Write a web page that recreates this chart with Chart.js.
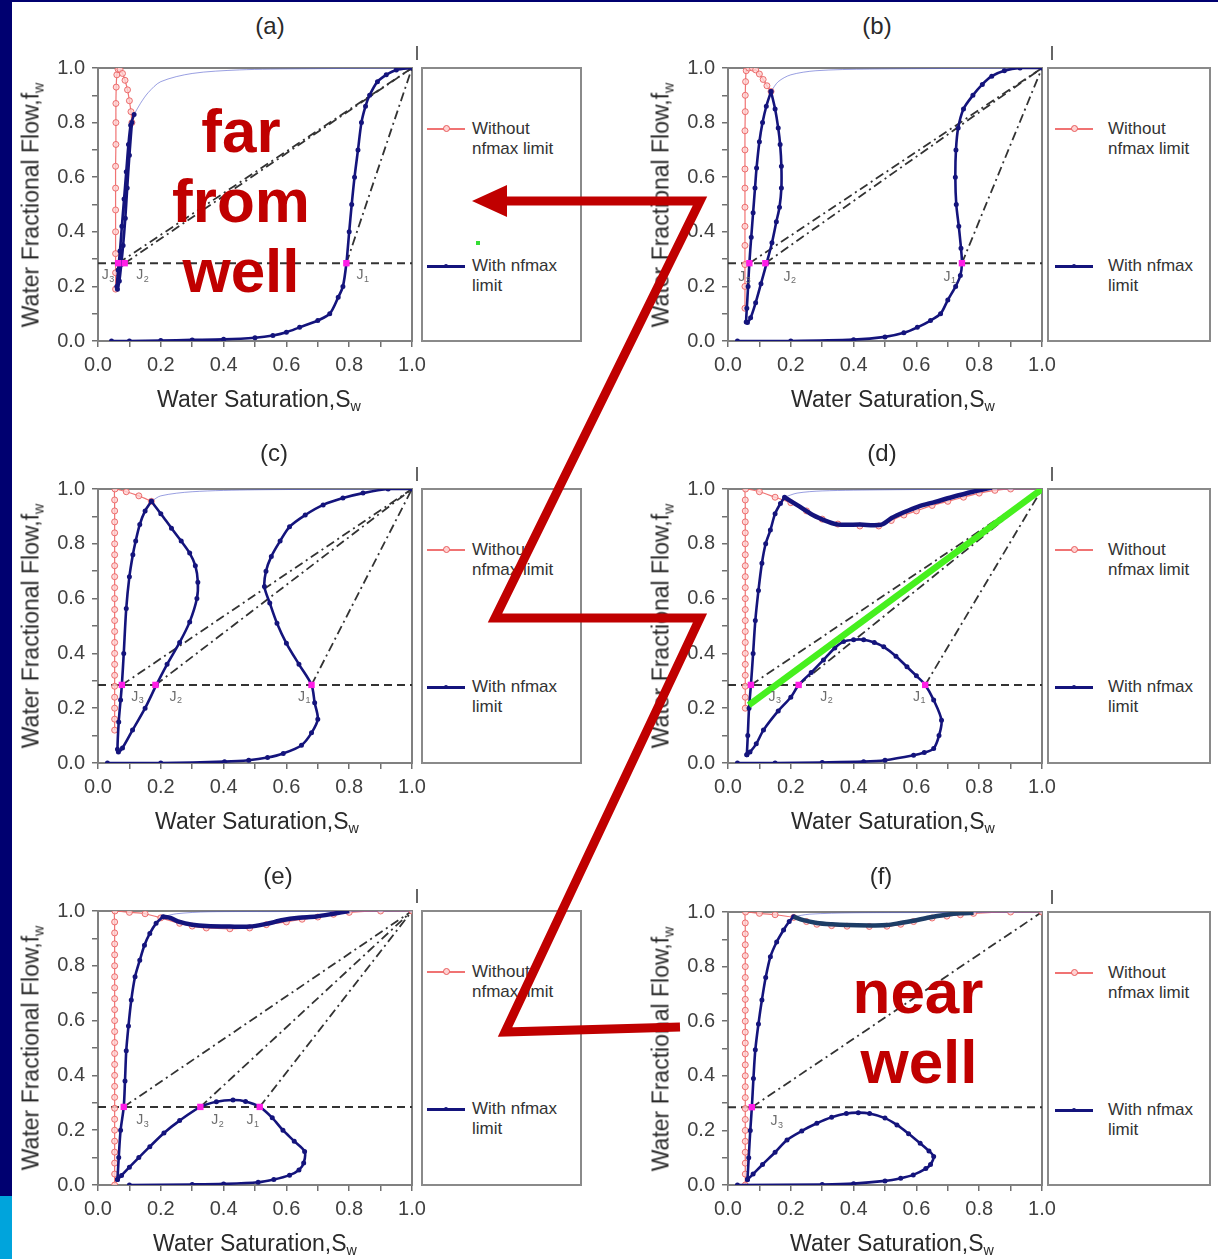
<!DOCTYPE html>
<html>
<head>
<meta charset="utf-8">
<script src="https://cdn.jsdelivr.net/npm/chart.js@4.4.1/dist/chart.umd.min.js"></script>
<style>
  html, body { margin: 0; padding: 0; background: #fff; }
  #page { position: relative; width: 1218px; height: 1259px; overflow: hidden; background: #fff;
          font-family: "Liberation Sans", Arial, sans-serif; }
  .frame { position: absolute; background: #000070; }
  .cv { position: absolute; }
  .lbl { position: absolute; white-space: nowrap; color: #2a2a2a; transform: translate(-50%, -50%); }
  .lbl sub { font-size: 0.62em; vertical-align: -0.35em; }
  .ptitle { font-size: 24px; }
  .axt { font-size: 23px; }
  .yt { transform: translate(-50%, -50%) rotate(-90deg); }
  .leg { position: absolute; border: 2px solid #8a8a8a; box-sizing: border-box; background: #fff; }
  .leg .txt { position: absolute; font-size: 17px; line-height: 20px; color: #333; white-space: nowrap; }
  .leg .ln { position: absolute; }
  .leg .mk { position: absolute; border-radius: 50%; }
  .tickI { position: absolute; width: 2px; background: #666; }
  #overlay { position: absolute; left: 0; top: 0; pointer-events: none; }
</style>
</head>
<body>
<div id="page">
  <div class="frame" style="left:0;top:0;width:12px;height:1259px"></div>
  <div class="frame" style="left:0;top:0;width:1218px;height:2px"></div>
  <div class="frame" style="left:0;top:1196px;width:12px;height:63px;background:#00a4dc"></div>
</div>
<script>
// ---------------- DATA (Sw, fw pairs) ----------------
const TICKS_X = ["0.0", "0.2", "0.4", "0.6", "0.8", "1.0"];
const FW_DASH = 0.285;          // horizontal dashed line
const END = [1.0, 1.0];         // tie lines converge here

// (a)
const aRed = [[0.056,0.19],[0.056,0.25],[0.056,0.32],[0.056,0.40],[0.056,0.48],[0.056,0.56],[0.056,0.64],[0.057,0.72],[0.057,0.80],[0.057,0.87],[0.058,0.93],[0.06,0.975],[0.064,0.995],[0.07,0.995],[0.078,0.98],[0.086,0.955],[0.094,0.92],[0.1,0.88],[0.105,0.84],[0.108,0.8]];
const aBlueMain = [[0.043,0.0],[0.1,0.0],[0.2,0.002],[0.3,0.004],[0.4,0.006],[0.5,0.012],[0.557,0.02],[0.6,0.032],[0.642,0.05],[0.7,0.075],[0.738,0.1],[0.765,0.16],[0.78,0.2],[0.791,0.285],[0.8,0.4],[0.808,0.5],[0.817,0.6],[0.828,0.7],[0.839,0.8],[0.852,0.86],[0.865,0.9],[0.89,0.95],[0.918,0.975],[0.95,0.993],[1.0,1.0]];
const aBlueLoop = [[0.108,0.8],[0.1,0.68],[0.093,0.56],[0.087,0.45],[0.08,0.35],[0.074,0.28],[0.068,0.22],[0.062,0.19],[0.06,0.2],[0.064,0.26],[0.07,0.33],[0.076,0.42],[0.083,0.52],[0.09,0.62],[0.097,0.72],[0.104,0.79],[0.115,0.83]];
const aBlueThin = [[0.115,0.83],[0.135,0.87],[0.16,0.91],[0.2,0.95],[0.3,0.98],[0.45,0.993],[0.65,0.997],[1.0,1.0]];
const aJ = [[0.064,0.285],[0.085,0.285],[0.791,0.285]];
const aJLab = [[0.012,0.24],[0.122,0.24],[0.823,0.24]];

// (b)
const bRed = [[0.054,0.12],[0.054,0.2],[0.054,0.28],[0.054,0.35],[0.054,0.42],[0.054,0.49],[0.054,0.56],[0.054,0.63],[0.054,0.7],[0.054,0.77],[0.055,0.84],[0.055,0.9],[0.056,0.95],[0.058,0.99],[0.066,1.0],[0.078,1.0],[0.088,0.993],[0.1,0.978],[0.112,0.958],[0.124,0.935],[0.137,0.914]];
const bBlueMain = [[0.03,0.0],[0.2,0.0],[0.4,0.005],[0.5,0.015],[0.56,0.03],[0.603,0.05],[0.645,0.075],[0.677,0.1],[0.7,0.15],[0.725,0.2],[0.74,0.24],[0.745,0.285],[0.742,0.34],[0.735,0.42],[0.727,0.5],[0.724,0.6],[0.726,0.7],[0.733,0.78],[0.75,0.85],[0.78,0.9],[0.81,0.94],[0.84,0.97],[0.88,0.99],[0.93,1.0],[1.0,1.0]];
const bBlueLoop = [[0.137,0.914],[0.15,0.85],[0.16,0.78],[0.166,0.72],[0.17,0.64],[0.17,0.56],[0.164,0.49],[0.154,0.437],[0.14,0.36],[0.123,0.285],[0.105,0.21],[0.088,0.14],[0.072,0.085],[0.062,0.068],[0.058,0.07],[0.06,0.12],[0.064,0.2],[0.068,0.285],[0.074,0.38],[0.08,0.47],[0.086,0.56],[0.091,0.634],[0.1,0.73],[0.11,0.8],[0.122,0.86],[0.137,0.914]];
const bBlueThin = [[0.137,0.914],[0.16,0.95],[0.2,0.975],[0.28,0.99],[0.45,0.996],[1.0,1.0]];
const bJ = [[0.068,0.285],[0.119,0.285],[0.745,0.285]];
const bJLab = [[0.033,0.235],[0.177,0.235],[0.686,0.235]];

// (c)
const cRed = [[0.053,0.12],[0.053,0.16],[0.053,0.2],[0.053,0.24],[0.053,0.28],[0.053,0.32],[0.053,0.36],[0.053,0.4],[0.053,0.44],[0.053,0.48],[0.053,0.52],[0.053,0.56],[0.053,0.6],[0.053,0.64],[0.053,0.68],[0.053,0.72],[0.053,0.76],[0.053,0.8],[0.053,0.84],[0.053,0.88],[0.053,0.92],[0.053,0.96],[0.054,1.0],[0.09,0.99],[0.13,0.975],[0.17,0.955]];
const cBlueMain = [[0.03,0.0],[0.2,0.0],[0.403,0.005],[0.48,0.01],[0.54,0.02],[0.59,0.035],[0.648,0.065],[0.68,0.11],[0.7,0.16],[0.69,0.22],[0.68,0.285],[0.64,0.36],[0.6,0.437],[0.57,0.51],[0.547,0.584],[0.53,0.644],[0.535,0.7],[0.552,0.754],[0.58,0.81],[0.61,0.862],[0.66,0.905],[0.717,0.942],[0.78,0.967],[0.844,0.985],[0.924,1.0],[1.0,1.0]];
const cBlueLoop = [[0.17,0.955],[0.2,0.91],[0.234,0.857],[0.265,0.81],[0.292,0.766],[0.31,0.72],[0.318,0.66],[0.315,0.6],[0.292,0.515],[0.26,0.44],[0.22,0.36],[0.186,0.285],[0.15,0.2],[0.11,0.12],[0.078,0.055],[0.065,0.04],[0.062,0.05],[0.066,0.15],[0.072,0.23],[0.076,0.285],[0.082,0.4],[0.09,0.564],[0.1,0.68],[0.111,0.76],[0.12,0.81],[0.133,0.87],[0.15,0.92],[0.17,0.955]];
const cBlueThin = [[0.17,0.955],[0.2,0.975],[0.3,0.99],[0.5,0.997],[1.0,1.0]];
const cJ = [[0.076,0.285],[0.183,0.285],[0.68,0.285]];
const cJLab = [[0.106,0.241],[0.228,0.241],[0.637,0.241]];

// (d)
const dRed = [[0.055,0.2],[0.055,0.24],[0.055,0.28],[0.055,0.32],[0.055,0.36],[0.055,0.4],[0.055,0.44],[0.055,0.48],[0.055,0.52],[0.055,0.56],[0.055,0.6],[0.055,0.64],[0.055,0.68],[0.055,0.72],[0.055,0.76],[0.055,0.8],[0.055,0.84],[0.055,0.88],[0.055,0.92],[0.055,0.96],[0.056,1.0],[0.1,0.99],[0.15,0.97],[0.2,0.95],[0.25,0.92],[0.3,0.89],[0.35,0.872],[0.42,0.865],[0.48,0.865],[0.52,0.885],[0.56,0.905],[0.6,0.92],[0.65,0.94],[0.7,0.955],[0.75,0.97],[0.8,0.985],[0.85,0.995],[0.9,1.0],[1.0,1.0]];
const dBlueTop = [[0.18,0.97],[0.222,0.94],[0.27,0.905],[0.32,0.88],[0.351,0.87],[0.42,0.87],[0.489,0.87],[0.521,0.894],[0.56,0.915],[0.606,0.936],[0.66,0.953],[0.712,0.97],[0.78,0.99],[0.84,1.005]];
const dBlueRise = [[0.06,0.03],[0.063,0.1],[0.067,0.2],[0.073,0.285],[0.08,0.4],[0.087,0.52],[0.097,0.63],[0.108,0.729],[0.12,0.8],[0.135,0.85],[0.15,0.91],[0.167,0.947],[0.18,0.97]];
const dBlueLower = [[0.06,0.03],[0.07,0.04],[0.09,0.07],[0.113,0.12],[0.16,0.19],[0.2,0.24],[0.225,0.285],[0.265,0.33],[0.304,0.376],[0.34,0.42],[0.368,0.443],[0.4,0.45],[0.432,0.45],[0.466,0.44],[0.496,0.424],[0.535,0.39],[0.57,0.351],[0.6,0.318],[0.628,0.285],[0.655,0.23],[0.68,0.156],[0.672,0.1],[0.655,0.053],[0.625,0.038],[0.591,0.028],[0.5,0.01],[0.432,0.005],[0.3,0.002],[0.15,0.0],[0.03,0.0]];
const dBlueThin = [[0.18,0.97],[0.22,0.985],[0.3,0.993],[0.5,0.997],[0.84,1.0],[1.0,1.0]];
const dGreen = [[0.066,0.211],[1.0,1.0]];
const dJ = [[0.073,0.285],[0.225,0.285],[0.628,0.285]];
const dJLab = [[0.129,0.241],[0.294,0.241],[0.589,0.241]];

// (e)
const eRed = [[0.053,0.0],[0.053,0.04],[0.053,0.08],[0.053,0.12],[0.053,0.16],[0.053,0.2],[0.053,0.24],[0.053,0.28],[0.053,0.32],[0.053,0.36],[0.053,0.4],[0.053,0.44],[0.053,0.48],[0.053,0.52],[0.053,0.56],[0.053,0.6],[0.053,0.64],[0.053,0.68],[0.053,0.72],[0.053,0.76],[0.053,0.8],[0.053,0.84],[0.053,0.88],[0.053,0.92],[0.053,0.96],[0.054,1.0],[0.1,0.995],[0.15,0.99],[0.2,0.975],[0.26,0.955],[0.3,0.945],[0.345,0.938],[0.42,0.935],[0.483,0.938],[0.536,0.95],[0.6,0.96],[0.65,0.97],[0.7,0.978],[0.75,0.988],[0.8,0.995],[0.9,1.0],[1.0,1.0]];
const eBlueTop = [[0.207,0.979],[0.23,0.975],[0.26,0.96],[0.3,0.95],[0.345,0.945],[0.42,0.943],[0.483,0.943],[0.536,0.953],[0.589,0.967],[0.64,0.975],[0.695,0.98],[0.75,0.99],[0.8,1.0]];
const eBlueRise = [[0.062,0.02],[0.066,0.1],[0.072,0.2],[0.082,0.285],[0.086,0.38],[0.09,0.49],[0.097,0.58],[0.106,0.675],[0.118,0.76],[0.133,0.82],[0.148,0.875],[0.165,0.918],[0.185,0.955],[0.207,0.979]];
const eBlueLower = [[0.062,0.02],[0.075,0.035],[0.1,0.065],[0.13,0.1],[0.165,0.14],[0.21,0.19],[0.26,0.235],[0.326,0.285],[0.377,0.304],[0.43,0.31],[0.47,0.305],[0.515,0.285],[0.555,0.245],[0.589,0.2],[0.625,0.16],[0.658,0.122],[0.655,0.08],[0.64,0.055],[0.61,0.036],[0.56,0.02],[0.51,0.01],[0.4,0.004],[0.3,0.002],[0.1,0.0]];
const eBlueThin = [[0.207,0.979],[0.25,0.99],[0.35,0.997],[0.6,0.998],[1.0,1.0]];
const eJ = [[0.082,0.285],[0.326,0.285],[0.515,0.285]];
const eJLab = [[0.122,0.237],[0.361,0.237],[0.473,0.237]];

// (f)
const fRed = [[0.055,0.0],[0.055,0.04],[0.055,0.08],[0.055,0.12],[0.055,0.16],[0.055,0.2],[0.055,0.24],[0.055,0.28],[0.055,0.32],[0.055,0.36],[0.055,0.4],[0.055,0.44],[0.055,0.48],[0.055,0.52],[0.055,0.56],[0.055,0.6],[0.055,0.64],[0.055,0.68],[0.055,0.72],[0.055,0.76],[0.055,0.8],[0.055,0.84],[0.055,0.88],[0.055,0.92],[0.055,0.96],[0.056,1.0],[0.1,0.995],[0.15,0.99],[0.209,0.98],[0.25,0.965],[0.283,0.955],[0.33,0.95],[0.379,0.948],[0.45,0.947],[0.506,0.948],[0.55,0.955],[0.591,0.965],[0.65,0.978],[0.697,0.985],[0.74,0.99],[0.782,0.995],[0.9,1.0],[1.0,1.0]];
const fBlueTop = [[0.209,0.983],[0.24,0.97],[0.283,0.96],[0.33,0.955],[0.379,0.952],[0.45,0.951],[0.506,0.952],[0.55,0.96],[0.591,0.968],[0.64,0.98],[0.697,0.99],[0.74,0.995],[0.782,0.997]];
const fBlueRise = [[0.062,0.02],[0.066,0.1],[0.071,0.2],[0.076,0.285],[0.081,0.39],[0.087,0.495],[0.097,0.59],[0.108,0.678],[0.12,0.76],[0.135,0.836],[0.155,0.89],[0.177,0.934],[0.195,0.965],[0.209,0.983]];
const fBlueLower = [[0.062,0.02],[0.08,0.04],[0.11,0.075],[0.15,0.12],[0.188,0.165],[0.235,0.198],[0.283,0.226],[0.33,0.248],[0.377,0.262],[0.415,0.265],[0.451,0.262],[0.5,0.245],[0.538,0.22],[0.575,0.188],[0.612,0.153],[0.64,0.125],[0.655,0.104],[0.645,0.075],[0.63,0.06],[0.59,0.037],[0.55,0.025],[0.5,0.015],[0.4,0.005],[0.3,0.002],[0.03,0.0]];
const fBlueThin = [[0.209,0.983],[0.26,0.992],[0.4,0.997],[0.7,0.998],[1.0,1.0]];
const fJ = [[0.076,0.285]];
const fJLab = [[0.135,0.233]];

// J points are listed J3, J2, J1 in every panel
const J_NAMES = ["3", "2", "1"];

// annotation overlay (page pixels)
const ARROW_PATH = [[505,201],[700,201],[495,618],[700,618],[505,1032],[680,1027]];
const ARROW_HEAD = [[472,201],[507,185],[507,217]];

// ---------------- STYLE ----------------
const NAVY = "#14147c";
const RED = "rgba(238,100,100,0.9)";

// ---------------- PANELS ----------------
const panels = [
  { title: "(a)", L: 98,  T: 68,  R: 412,  B: 341,  tx: 270, ty: 26,  xtx: 259, right: false,
    red: aRed, blue: [aBlueMain, aBlueLoop], thick: [], thin: aBlueThin, green: null, J: aJ, JLab: aJLab },
  { title: "(b)", L: 728, T: 68,  R: 1042, B: 341,  tx: 877, ty: 26,  xtx: 893, right: true,
    red: bRed, blue: [bBlueMain, bBlueLoop], thick: [], thin: bBlueThin, green: null, J: bJ, JLab: bJLab },
  { title: "(c)", L: 98,  T: 489, R: 412,  B: 763,  tx: 274, ty: 453, xtx: 257, right: false,
    red: cRed, blue: [cBlueMain, cBlueLoop], thick: [], thin: cBlueThin, green: null, J: cJ, JLab: cJLab },
  { title: "(d)", L: 728, T: 489, R: 1042, B: 763,  tx: 882, ty: 453, xtx: 893, right: true,
    red: dRed, blue: [dBlueRise, dBlueLower], thick: [dBlueTop], thickColor: NAVY, thin: dBlueThin, green: dGreen, J: dJ, JLab: dJLab },
  { title: "(e)", L: 98,  T: 911, R: 412,  B: 1185, tx: 278, ty: 876, xtx: 255, right: false,
    red: eRed, blue: [eBlueRise, eBlueLower], thick: [eBlueTop], thickColor: NAVY, thin: eBlueThin, green: null, J: eJ, JLab: eJLab },
  { title: "(f)", L: 728, T: 912, R: 1042, B: 1185, tx: 881, ty: 876, xtx: 892, right: true,
    red: fRed, blue: [fBlueRise, fBlueLower], thick: [fBlueTop], thickColor: "#1d3d66", thin: fBlueThin, green: null, J: fJ, JLab: fJLab }
];

const page = document.getElementById("page");
const pts = arr => arr.map(p => ({ x: p[0], y: p[1] }));

function addDiv(cls, style, html) {
  const d = document.createElement("div");
  d.className = cls;
  Object.assign(d.style, style);
  if (html) d.innerHTML = html;
  page.appendChild(d);
  return d;
}

function line(data, color, width, radius, extra) {
  return Object.assign({
    data: pts(data), showLine: true, borderColor: color, backgroundColor: color,
    pointBackgroundColor: color, pointBorderColor: color, borderWidth: width,
    pointRadius: radius, pointHoverRadius: 0, tension: 0.3, fill: false
  }, extra || {});
}

function drawPanel(p) {
  const YW = 70, XH = 45, TOP = 28, RT = 28;
  const w = (p.R - p.L) + YW + RT, h = (p.B - p.T) + TOP + XH;
  const cv = document.createElement("canvas");
  cv.className = "cv";
  cv.width = w; cv.height = h;
  cv.style.left = (p.L - YW) + "px";
  cv.style.top = (p.T - TOP) + "px";
  cv.style.width = w + "px"; cv.style.height = h + "px";
  page.appendChild(cv);

  const datasets = [];
  datasets.push(line(p.J, "#ff1ee6", 0, 4.5, { pointStyle: "rect", showLine: false, order: 0 }));
  if (p.green) datasets.push(line(p.green, "#46f01e", 6.5, 0, { order: 1, tension: 0 }));
  p.thick.forEach(c => datasets.push(line(c, p.thickColor, 4.5, 0, { order: 2 })));
  p.blue.forEach(c => datasets.push(line(c, NAVY, 2.6, 1.2, { order: 2 })));
  datasets.push(line(p.thin, "rgba(70,80,200,0.55)", 1, 0, { order: 3 }));
  datasets.push(line(p.red, RED, 1.2, 3, {
    order: 4, tension: 0.2, pointBorderColor: "rgba(232,92,92,0.85)",
    pointBackgroundColor: "rgba(255,210,210,0.8)", pointBorderWidth: 1
  }));
  p.J.forEach(j => datasets.push(line([j, END], "#333", 1.8, 0,
    { order: 5, tension: 0, borderDash: [9, 4, 2, 4] })));
  datasets.push(line([[0, FW_DASH], [1, FW_DASH]], "#333", 2, 0,
    { order: 5, tension: 0, borderDash: [8, 5] }));

  const tickFont = { family: "'Liberation Sans', Arial, sans-serif", size: 20 };
  const label = v => {
    const k = Math.round(v * 10);
    return k % 2 === 0 ? TICKS_X[k / 2] : "";
  };
  const edge = { display: true, color: "#808080", width: 2 };

  const jLabels = {
    id: "jlabels",
    afterDatasetsDraw(chart) {
      const ctx = chart.ctx, sx = chart.scales.x, sy = chart.scales.y;
      ctx.save();
      ctx.fillStyle = "#6c6c6c";
      ctx.textBaseline = "middle";
      p.JLab.forEach((pos, i) => {
        const x = sx.getPixelForValue(pos[0]), y = sy.getPixelForValue(pos[1]);
        ctx.font = "14px 'Liberation Sans', Arial";
        ctx.fillText("J", x, y);
        const jw = ctx.measureText("J").width;
        ctx.font = "9px 'Liberation Sans', Arial";
        ctx.fillText(J_NAMES[i], x + jw + 0.5, y + 4);
      });
      ctx.restore();
    }
  };

  const chart = new Chart(cv, {
    type: "scatter",
    data: { datasets },
    options: {
      responsive: false,
      animation: false,
      layout: { padding: 0 },
      plugins: { legend: { display: false }, tooltip: { enabled: false } },
      scales: {
        x: {
          type: "linear", min: 0, max: 1,
          ticks: { stepSize: 0.1, autoSkip: false, maxRotation: 0, padding: 6,
                   color: "#404040", font: tickFont, callback: label },
          grid: { drawOnChartArea: false, drawTicks: true, tickLength: 6, color: "#707070", lineWidth: 1.5 },
          border: edge,
          afterFit(s) { s.height = XH; }
        },
        y: {
          type: "linear", min: 0, max: 1,
          ticks: { stepSize: 0.1, autoSkip: false, padding: 7,
                   color: "#404040", font: tickFont, callback: label },
          grid: { drawOnChartArea: false, drawTicks: true, tickLength: 6, color: "#707070", lineWidth: 1.5 },
          border: edge,
          afterFit(s) { s.width = YW; }
        },
        x2: {
          type: "linear", position: "top", min: 0, max: 1,
          ticks: { display: false }, grid: { drawOnChartArea: false, drawTicks: false },
          border: edge,
          afterFit(s) { s.height = TOP; }
        },
        y2: {
          type: "linear", position: "right", min: 0, max: 1,
          ticks: { display: false }, grid: { drawOnChartArea: false, drawTicks: false },
          border: edge,
          afterFit(s) { s.width = RT; }
        }
      }
    },
    plugins: [jLabels]
  });

  // put the plot area exactly on the measured frame
  const a = chart.chartArea;
  cv.style.left = (p.L - a.left) + "px";
  cv.style.top = (p.T - a.top) + "px";

  // titles
  addDiv("lbl ptitle", { left: p.tx + "px", top: p.ty + "px" }, p.title);
  addDiv("lbl axt", { left: p.xtx + "px", top: (p.B + 59) + "px" }, "Water Saturation,S<sub>w</sub>");
  addDiv("lbl axt yt", { left: (p.L - 66) + "px", top: ((p.T + p.B) / 2) + "px" }, "Water Fractional Flow,f<sub>w</sub>");
  addDiv("tickI", { left: (p.R + (p.right ? 9 : 4)) + "px", top: (p.T - 22) + "px", height: "14px" });

  // legend box
  const lx = p.right ? 1047 : 421, lw = p.right ? 164 : 161;
  const l0 = p.right ? 6 : 4, l1 = p.right ? 44 : 42, tx = p.right ? 59 : 49;
  const box = addDiv("leg", { left: lx + "px", top: (p.T - 1) + "px", width: lw + "px", height: (p.B - p.T + 2) + "px" });
  box.innerHTML =
    `<div class="ln" style="left:${l0}px;top:59px;width:${l1 - l0}px;height:1.5px;background:${RED}"></div>` +
    `<div class="mk" style="left:${(l0 + l1) / 2 - 3}px;top:56px;width:5px;height:5px;border:1px solid #e85c5c;background:#ffd2d2"></div>` +
    `<div class="txt" style="left:${tx}px;top:50px">Without<br>nfmax limit</div>` +
    `<div class="ln" style="left:${l0}px;top:196px;width:${l1 - l0}px;height:2.5px;background:${NAVY}"></div>` +
    `<div class="mk" style="left:${(l0 + l1) / 2 - 2}px;top:195px;width:4px;height:4px;background:${NAVY}"></div>` +
    `<div class="txt" style="left:${tx}px;top:187px">With nfmax<br>limit</div>`;
}

panels.forEach(drawPanel);

// small green speck inside legend (a)
addDiv("", { position: "absolute", left: "476px", top: "241px", width: "4px", height: "4px", background: "#33dd33" });

// ---------------- ANNOTATION OVERLAY ----------------
const svgNS = "http://www.w3.org/2000/svg";
const svg = document.createElementNS(svgNS, "svg");
svg.setAttribute("id", "overlay");
svg.setAttribute("width", "1218");
svg.setAttribute("height", "1259");
const path = document.createElementNS(svgNS, "polyline");
path.setAttribute("points", ARROW_PATH.map(p => p.join(",")).join(" "));
path.setAttribute("fill", "none");
path.setAttribute("stroke", "#c00000");
path.setAttribute("stroke-width", "9");
path.setAttribute("stroke-linejoin", "miter");
svg.appendChild(path);
const head = document.createElementNS(svgNS, "polygon");
head.setAttribute("points", ARROW_HEAD.map(p => p.join(",")).join(" "));
head.setAttribute("fill", "#c00000");
svg.appendChild(head);

const words = [["far", 241, 152], ["from", 241, 222], ["well", 241, 292], ["near", 918, 1013], ["well", 919, 1083]];
words.forEach(w => {
  const t = document.createElementNS(svgNS, "text");
  t.setAttribute("x", w[1]);
  t.setAttribute("y", w[2]);
  t.setAttribute("text-anchor", "middle");
  t.setAttribute("font-family", "'Liberation Sans', Arial, sans-serif");
  t.setAttribute("font-weight", "bold");
  t.setAttribute("font-size", "62");
  t.setAttribute("fill", "#c00000");
  t.textContent = w[0];
  svg.appendChild(t);
});
page.appendChild(svg);
</script>
</body>
</html>
